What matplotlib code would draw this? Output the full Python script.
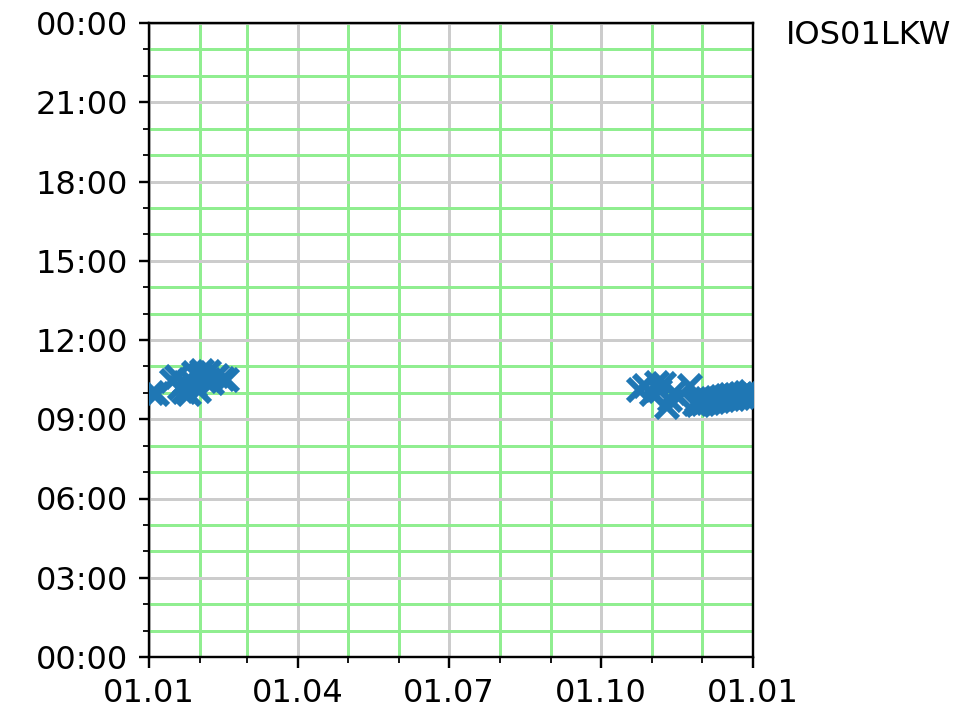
import datetime as dt
import matplotlib
matplotlib.use("Agg")
import matplotlib.pyplot as plt
import matplotlib.dates as mdates

station = "IOS01LKW"

# observation dates and time of day of each event
dates = [
    "2021-01-03", "2021-01-06", "2021-01-15", "2021-01-18", "2021-01-20",
    "2021-01-22", "2021-01-23", "2021-01-25", "2021-01-26", "2021-01-28",
    "2021-01-29", "2021-01-31", "2021-02-01", "2021-02-02", "2021-02-04",
    "2021-02-06", "2021-02-08", "2021-02-11", "2021-02-15", "2021-02-17",
    "2021-10-24", "2021-10-28", "2021-11-01", "2021-11-04", "2021-11-06",
    "2021-11-08", "2021-11-10", "2021-11-12", "2021-11-14", "2021-11-17",
    "2021-11-24",
    "2021-11-27", "2021-11-28", "2021-11-29", "2021-11-30", "2021-12-01",
    "2021-12-02", "2021-12-03", "2021-12-04", "2021-12-05", "2021-12-06",
    "2021-12-07", "2021-12-08", "2021-12-09", "2021-12-10", "2021-12-11",
    "2021-12-12", "2021-12-13", "2021-12-14", "2021-12-15", "2021-12-16",
    "2021-12-17", "2021-12-18", "2021-12-19", "2021-12-20", "2021-12-21",
    "2021-12-22", "2021-12-23", "2021-12-24", "2021-12-25", "2021-12-26",
    "2021-12-27", "2021-12-28", "2021-12-29", "2021-12-30", "2021-12-31",
]
times = [
    "10:00", "09:58", "10:28", "10:36", "10:12",
    "10:02", "10:22", "09:58", "10:30", "10:45",
    "10:15", "10:05", "10:40", "10:50", "10:28",
    "10:47", "10:22", "10:38", "10:32", "10:30",
    "10:07", "10:15", "09:58", "10:22", "10:05",
    "10:20", "09:27", "09:43", "10:00", "09:50",
    "10:16",
    "09:34", "09:41", "09:33", "09:38", "09:43",
    "09:35", "09:40", "09:45", "09:37", "09:41",
    "09:46", "09:39", "09:43", "09:48", "09:41",
    "09:46", "09:50", "09:43", "09:48", "09:52",
    "09:45", "09:50", "09:54", "09:47", "09:52",
    "09:56", "09:49", "09:54", "09:58", "09:51",
    "09:56", "09:59", "09:53", "09:58", "10:01",
]

x_start, x_end = "2021-01-01", "2022-01-01"

# put every time of day on the same reference day
ref_day = dt.datetime(1900, 1, 1)
xs = [dt.datetime.strptime(d, "%Y-%m-%d") for d in dates]
ys = [dt.datetime.combine(ref_day.date(), dt.datetime.strptime(t, "%H:%M").time()) for t in times]

plt.rcParams["font.size"] = 10.7

fig = plt.figure(figsize=(974 / 216, 720 / 216), dpi=216)
ax = fig.add_axes([149 / 974, 63 / 720, 604 / 974, 634 / 720])

ax.plot(xs, ys, linestyle="none", marker="x", markersize=7.5,
        markeredgewidth=2, color="#1f77b4", zorder=3)

ax.set_xlim(dt.datetime.strptime(x_start, "%Y-%m-%d"),
            dt.datetime.strptime(x_end, "%Y-%m-%d"))
ax.set_ylim(ref_day, ref_day + dt.timedelta(days=1))

ax.xaxis.set_major_locator(mdates.MonthLocator(bymonth=[1, 4, 7, 10]))
ax.xaxis.set_minor_locator(mdates.MonthLocator())
ax.xaxis.set_major_formatter(mdates.DateFormatter("%d.%m"))

ax.yaxis.set_major_locator(mdates.HourLocator(byhour=range(0, 24, 3)))
ax.yaxis.set_minor_locator(mdates.HourLocator())
ax.yaxis.set_major_formatter(mdates.DateFormatter("%H:%M"))

ax.grid(which="major", color="#cccccc", linewidth=1.0, zorder=0)
ax.grid(which="minor", color="#90ee90", linewidth=1.0, zorder=0)
ax.set_axisbelow(True)

ax.text(1.055, 1.005, station, transform=ax.transAxes, ha="left", va="top")

fig.savefig("out.png", dpi=216)
